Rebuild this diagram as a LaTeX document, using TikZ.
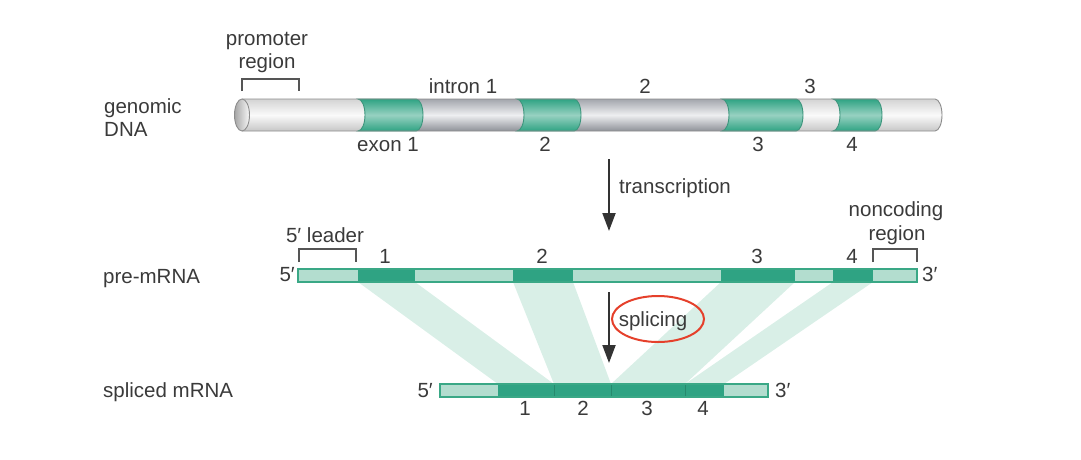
\documentclass[tikz,border=0pt]{standalone}
\usepackage{fontspec}
\setmainfont{Liberation Sans}
\usetikzlibrary{arrows.meta}
\definecolor{txt}{HTML}{3A3A3A}
\definecolor{arrc}{HTML}{333333}
\definecolor{brkc}{HTML}{555555}
\definecolor{lgr}{HTML}{B3DDCF}
\definecolor{dgr}{HTML}{2FA383}
\definecolor{edge}{HTML}{3AA886}
\definecolor{sep}{HTML}{26896D}
\definecolor{bandc}{HTML}{D9EFE7}
\definecolor{cylout}{HTML}{8C8C8C}
\definecolor{redc}{HTML}{E5402B}
\definecolor{gtop}{HTML}{A3A6AD}
\definecolor{gmid}{HTML}{EEEFF1}
\definecolor{gbot}{HTML}{8E9198}
\newcommand\cylseg[3]{\path[#3] (#1,99) arc[start angle=-90,end angle=90,x radius=7,y radius=16] -- (#2,131) arc[start angle=90,end angle=-90,x radius=7,y radius=16] -- cycle;}
\begin{document}
\begin{tikzpicture}[x=1pt,y=-1pt,
  lbl/.style={font=\fontsize{20.5}{24}\selectfont, text=txt, inner sep=0pt},
  brk/.style={draw=brkc, line width=1.1pt},
  arr/.style={draw=arrc, line width=2pt, -{Triangle[length=18pt,width=13pt]}},
  band/.style={fill=bandc},
  lightseg/.style={fill=lgr},
  darkseg/.style={fill=dgr},
  barout/.style={draw=edge, line width=1.4pt},
  graycyl/.style={top color=gtop, bottom color=gbot, middle color=gmid},
  whitecyl/.style={top color=black!17, bottom color=black!22, middle color=black!2},
  exoncyl/.style={top color=dgr, bottom color=dgr, middle color=dgr!50, draw=sep!90, line width=0.9pt},
  redring/.style={draw=redc, line width=2pt}
]
\useasboundingbox (0,0) rectangle (1081,459);

% ---------- genomic DNA cylinder ----------
\cylseg{242}{358}{whitecyl}
\cylseg{416}{517}{graycyl}
\cylseg{574}{722}{graycyl}
\cylseg{796}{833}{whitecyl}
\cylseg{875}{935}{whitecyl}
\cylseg{358}{416}{exoncyl}
\cylseg{517}{574}{exoncyl}
\cylseg{722}{796}{exoncyl}
\cylseg{833}{875}{exoncyl}
\draw[cylout, line width=0.9pt] (242,99) -- (935,99) arc[start angle=-90,end angle=90,x radius=7,y radius=16] -- (242,131);
\path[left color=black!35, right color=black!3, draw=cylout, line width=0.9pt] (242,115) ellipse[x radius=7.5, y radius=16];

% DNA labels
\node[lbl, anchor=base west] (gen) at (104,113) {genomic};
\node[lbl, anchor=base west] (dna) at (104,136) {DNA};
\node[lbl, anchor=base] (prom) at (267,45) {promoter};
\node[lbl, anchor=base] (promr) at (267,68) {region};
\draw[brk] (242,91) -- (242,79) -- (299,79) -- (299,91);
\node[lbl, anchor=base] (in1) at (463,93) {intron 1};
\node[lbl, anchor=base] (in2) at (645,93) {2};
\node[lbl, anchor=base] (in3) at (810,93) {3};
\node[lbl, anchor=base] (ex1) at (388,151) {exon 1};
\node[lbl, anchor=base] (ex2) at (545,151) {2};
\node[lbl, anchor=base] (ex3) at (758,151) {3};
\node[lbl, anchor=base] (ex4) at (852,151) {4};

% transcription arrow
\coordinate (t1) at (609,159);
\coordinate (t2) at (609,231);
\draw[arr] (t1) -- (t2);
\node[lbl, anchor=base west] (trn) at (619,193) {transcription};

% ---------- bands between pre-mRNA and spliced mRNA ----------
\path[band] (358,282) -- (415,282) -- (554,384) -- (498,384) -- cycle;
\path[band] (513,282) -- (573,282) -- (611,384) -- (554,384) -- cycle;
\path[band] (721,282) -- (795,282) -- (685,384) -- (611,384) -- cycle;
\path[band] (833,282) -- (873,282) -- (724,384) -- (685,384) -- cycle;

% ---------- pre-mRNA ----------
\path[lightseg] (298,269) rectangle (917,282);
\path[darkseg] (358,269) rectangle (415,282);
\path[darkseg] (513,269) rectangle (573,282);
\path[darkseg] (721,269) rectangle (795,282);
\path[darkseg] (833,269) rectangle (873,282);
\draw[barout] (298,269) rectangle (917,282);
\node[lbl, anchor=base east] (p5) at (295,281) {5′};
\node[lbl, anchor=base west] (p3) at (922,281) {3′};
\node[lbl, anchor=base west] (pre) at (103,283) {pre-mRNA};
\node[lbl, anchor=base] (pl) at (325,242) {5′ leader};
\draw[brk] (299,262) -- (299,249) -- (356,249) -- (356,262);
\node[lbl, anchor=base] (nc1) at (896,216) {noncoding};
\node[lbl, anchor=base] (nc2) at (897,240) {region};
\draw[brk] (873,262) -- (873,249) -- (917,249) -- (917,262);
\node[lbl, anchor=base] (pn1) at (385,263) {1};
\node[lbl, anchor=base] (pn2) at (542,263) {2};
\node[lbl, anchor=base] (pn3) at (757,263) {3};
\node[lbl, anchor=base] (pn4) at (852,263) {4};

% splicing arrow
\coordinate (s1) at (609,292);
\coordinate (s2) at (609,363);
\draw[arr] (s1) -- (s2);
\node[lbl, anchor=base] (spl) at (653,326) {splicing};
\draw[redring] (658,319) ellipse[x radius=46, y radius=23];

% ---------- spliced mRNA ----------
\path[lightseg] (440,384) rectangle (768,397);
\path[darkseg] (498,384) rectangle (724,397);
\draw[sep, line width=0.6pt] (554,384) -- (554,397) (611,384) -- (611,397) (685,384) -- (685,397);
\draw[barout] (440,384) rectangle (768,397);
\node[lbl, anchor=base east] (s5) at (433,397) {5′};
\node[lbl, anchor=base west] (s3) at (775,397) {3′};
\node[lbl, anchor=base west] (spm) at (103,397) {spliced mRNA};
\node[lbl, anchor=base] (sn1) at (525,415) {1};
\node[lbl, anchor=base] (sn2) at (583,415) {2};
\node[lbl, anchor=base] (sn3) at (647,415) {3};
\node[lbl, anchor=base] (sn4) at (703,415) {4};
\end{tikzpicture}
\end{document}
